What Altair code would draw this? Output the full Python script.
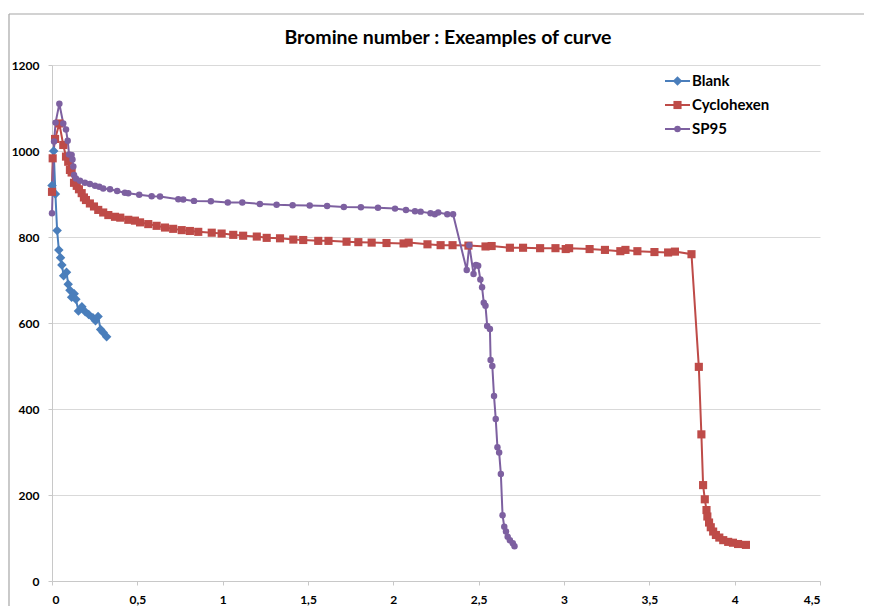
import altair as alt
import pandas as pd

# ---------------- data ----------------
series_names = ["Blank", "Cyclohexen", "SP95"]
series_colors = ["#4A7EBB", "#BE4B48", "#7D60A0"]
series_shapes = ["diamond", "square", "circle"]

blank_x = [0.000, 0.010, 0.020, 0.030, 0.040, 0.050, 0.058, 0.068, 0.085, 0.095,
           0.105, 0.115, 0.130, 0.140, 0.155, 0.175, 0.195, 0.215, 0.240, 0.255,
           0.270, 0.285, 0.300, 0.320]
blank_y = [920, 1000, 900, 815, 770, 752, 735, 710, 718, 690,
           676, 660, 668, 655, 628, 638, 626, 620, 612, 605,
           615, 585, 578, 568]

cyclo_x = [0.000, 0.004, 0.018, 0.043, 0.066, 0.082, 0.095, 0.105, 0.115, 0.129,
           0.145, 0.158, 0.174, 0.187, 0.199, 0.222, 0.246, 0.271, 0.300, 0.330,
           0.369, 0.400, 0.447, 0.486, 0.516, 0.564, 0.613, 0.662, 0.710, 0.760,
           0.808, 0.857, 0.936, 0.994, 1.062, 1.120, 1.200, 1.258, 1.336, 1.414,
           1.472, 1.560, 1.620, 1.726, 1.795, 1.873, 1.960, 2.060, 2.090, 2.200,
           2.277, 2.347, 2.440, 2.540, 2.576, 2.683, 2.760, 2.860, 2.950, 3.010,
           3.030, 3.150, 3.240, 3.330, 3.360, 3.430, 3.530, 3.610, 3.650, 3.747,
           3.790, 3.805, 3.815, 3.825, 3.835, 3.840, 3.850, 3.860, 3.874, 3.890,
           3.910, 3.933, 3.962, 3.990, 4.020, 4.066]
cyclo_y = [905, 983, 1028, 1064, 1014, 987, 975, 956, 950, 926,
           919, 911, 902, 892, 886, 878, 871, 863, 857, 851,
           847, 845, 840, 838, 834, 830, 826, 822, 819, 816,
           814, 812, 810, 808, 805, 803, 801, 798, 797, 794,
           793, 791, 791, 789, 788, 787, 786, 785, 787, 783,
           781, 781, 780, 778, 779, 775, 775, 774, 774, 772,
           774, 772, 770, 767, 770, 767, 765, 764, 766, 760,
           498, 341, 223, 190, 165, 150, 136, 125, 115, 107,
           101, 95, 91, 89, 86, 84]

sp95_x = [0.000, 0.012, 0.021, 0.043, 0.066, 0.082, 0.092, 0.100, 0.115, 0.120,
          0.125, 0.129, 0.140, 0.164, 0.193, 0.222, 0.252, 0.277, 0.300, 0.340,
          0.382, 0.427, 0.447, 0.511, 0.584, 0.633, 0.740, 0.769, 0.832, 0.931,
          1.030, 1.115, 1.218, 1.316, 1.410, 1.510, 1.612, 1.710, 1.810, 1.910,
          2.010, 2.074, 2.127, 2.160, 2.218, 2.243, 2.263, 2.316, 2.350, 2.430,
          2.445, 2.470, 2.484, 2.497, 2.510, 2.520, 2.530, 2.540, 2.550, 2.566,
          2.570, 2.580, 2.590, 2.600, 2.610, 2.620, 2.630, 2.640, 2.650, 2.660,
          2.670, 2.683, 2.700, 2.710]
sp95_y = [855, 1022, 1066, 1110, 1064, 1050, 1024, 992, 991, 980,
          964, 944, 936, 931, 926, 923, 919, 917, 913, 911,
          907, 903, 902, 898, 895, 894, 888, 887, 884, 883,
          880, 880, 877, 875, 874, 873, 872, 870, 869, 868,
          866, 863, 860, 859, 855, 853, 857, 853, 853, 723,
          781, 714, 735, 733, 701, 683, 647, 640, 593, 586,
          514, 500, 430, 377, 311, 299, 249, 153, 126, 115,
          103, 95, 88, 81]

x_ticks = [0, 0.5, 1, 1.5, 2, 2.5, 3, 3.5, 4, 4.5]
y_ticks = [0, 200, 400, 600, 800, 1000, 1200]
title_text = "Bromine number : Exeamples of curve"

# ---------------- tables ----------------
rows = []
for name, xs, ys in [("Blank", blank_x, blank_y),
                     ("Cyclohexen", cyclo_x, cyclo_y),
                     ("SP95", sp95_x, sp95_y)]:
    for i, (xv, yv) in enumerate(zip(xs, ys)):
        rows.append({"series": name, "x": xv, "y": yv, "idx": i})
df = pd.DataFrame(rows)
leg_df = pd.DataFrame({"series": series_names})
title_df = pd.DataFrame({"t": [title_text]})

FONT = "Lato"

color_scale = alt.Scale(domain=series_names, range=series_colors)
shape_scale = alt.Scale(domain=series_names, range=series_shapes)
size_scale = alt.Scale(domain=series_names, range=[90, 42, 40])

color_enc = alt.Color("series:N", scale=color_scale, legend=None)
shape_enc = alt.Shape("series:N", scale=shape_scale, legend=None)
size_enc = alt.Size("series:N", scale=size_scale, legend=None)

x_enc = alt.X("x:Q", scale=alt.Scale(domain=[0, 4.5], nice=False, zero=False),
              axis=alt.Axis(values=x_ticks, title=None, grid=False,
                            labelExpr="replace(toString(datum.value), '.', ',')"))
y_enc = alt.Y("y:Q", scale=alt.Scale(domain=[0, 1200], nice=False),
              axis=alt.Axis(values=y_ticks, title=None, grid=True, format="d"))

base = alt.Chart(df)

lines = base.mark_line(strokeWidth=2).encode(
    x=x_enc, y=y_enc, color=color_enc, detail="series:N", order=alt.Order("idx:Q"))
points = base.mark_point(filled=True, opacity=1).encode(
    x=x_enc, y=y_enc, color=color_enc, shape=shape_enc, size=size_enc)
main = alt.layer(lines, points)

# ---------------- legend (line + marker + label), top right inside plot ----------------
leg_y = alt.Y("series:N", scale=alt.Scale(domain=series_names, range=[4, 76]),
              axis=None)
leg_base = alt.Chart(leg_df)
leg_rule = leg_base.mark_rule(strokeWidth=2).encode(
    x=alt.value(613), x2=alt.value(638), y=leg_y, color=color_enc)
leg_pts = leg_base.mark_point(filled=True, opacity=1).encode(
    x=alt.value(625.5), y=leg_y, color=color_enc, shape=shape_enc, size=size_enc)
leg_txt = leg_base.mark_text(align="left", baseline="middle", font=FONT, fontSize=15,
                             fontWeight="bold", color="#000000").encode(
    x=alt.value(640), y=leg_y, text="series:N")
legend = alt.layer(leg_rule, leg_pts, leg_txt)

# ---------------- title and chart-area border ----------------
title_layer = alt.Chart(title_df).mark_text(
    align="center", baseline="middle", font=FONT, fontSize=19.5, fontWeight="bold",
    color="#000000").encode(x=alt.value(396), y=alt.value(-27), text="t:N")

deco = alt.Chart(pd.DataFrame({"a": [0]}))
border_top = deco.mark_rule(color="#a6a6a6", strokeWidth=1.2).encode(
    x=alt.value(-43), x2=alt.value(820), y=alt.value(-51))
border_left = deco.mark_rule(color="#a6a6a6", strokeWidth=1.2).encode(
    x=alt.value(-43), y=alt.value(-51), y2=alt.value(545))

chart = alt.layer(border_top, border_left, title_layer, main, legend).resolve_scale(
    y="independent"
).properties(
    width=768, height=516,
    background="white",
    autosize=alt.AutoSizeParams(type="none"),
    padding={"left": 44, "top": 57, "right": 44, "bottom": 25},
).configure_view(stroke=None).configure_axis(
    labelFont=FONT, labelFontSize=12, labelFontWeight="bold", labelColor="#000000",
    domainColor="#c8c8c8", tickColor="#c8c8c8", gridColor="#d9d9d9",
    tickSize=4, labelPadding=9, domainWidth=1, gridWidth=1,
)

chart.save("out.html", embed_options={"renderer": "svg", "actions": False})
